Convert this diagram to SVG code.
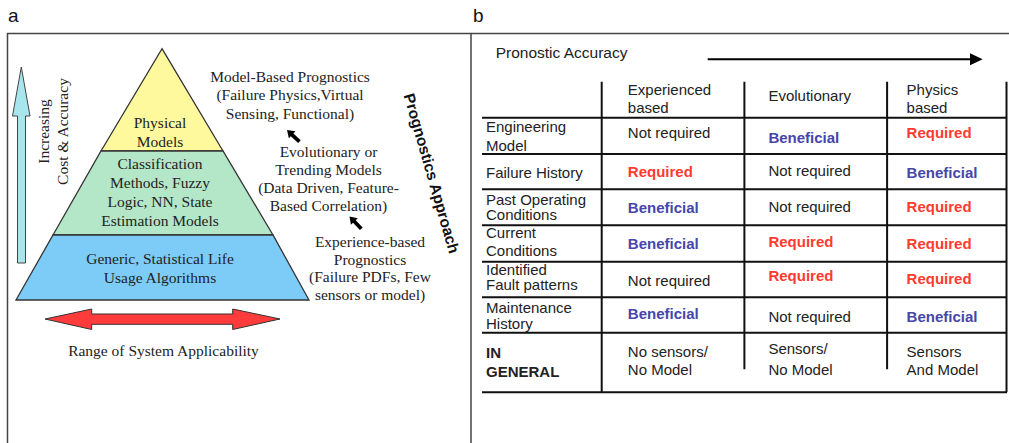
<svg xmlns="http://www.w3.org/2000/svg" width="1009" height="443" viewBox="0 0 1009 443">
<style>
.serif{font-family:"Liberation Serif","Times New Roman",serif;font-size:15.5px;fill:#222}
.sans{font-family:"Liberation Sans",Arial,sans-serif;font-size:15px;fill:#222}
.req{font-family:"Liberation Sans",Arial,sans-serif;font-size:15px;font-weight:bold;fill:#FF3B30}
.ben{font-family:"Liberation Sans",Arial,sans-serif;font-size:15px;font-weight:bold;fill:#4646AA}
.mid{text-anchor:middle}
.grid{stroke:#111;stroke-width:2;fill:none}
.layer{stroke:#333;stroke-width:1.3}
</style>
<defs>
<polygon id="fat" points="0,0 7,-4.8 7,-1.9 17,-1.9 17,1.9 7,1.9 7,4.8" fill="#000"/>
</defs>
<rect width="1009" height="443" fill="#fff"/>
<g id="frame" fill="none" stroke="#444" stroke-width="1.5">
<path d="M7.5,443 V33.5 H1009"/>
<path d="M471,33.5 V443"/>
</g>
<text x="8" y="22" font-family="Liberation Sans,Arial,sans-serif" font-size="19" fill="#111">a</text>
<text x="473" y="22" font-family="Liberation Sans,Arial,sans-serif" font-size="19" fill="#111">b</text>

<g id="pyramid">
<polygon id="top" class="layer" points="162,48.7 223,151 101,151" fill="#FFF99E"/>
<polygon id="middle" class="layer" points="101,151 223,151 273,235 53,235" fill="#B4E6C8"/>
<polygon id="base" class="layer" points="53,235 273,235 309,300 16,300" fill="#7CCCF7"/>
<text class="serif mid" x="160" y="128">Physical</text>
<text class="serif mid" x="160" y="146.5">Models</text>
<text class="serif mid" x="160" y="169">Classification</text>
<text class="serif mid" x="160" y="188">Methods, Fuzzy</text>
<text class="serif mid" x="160" y="207">Logic, NN, State</text>
<text class="serif mid" x="160" y="225.5">Estimation Models</text>
<text class="serif mid" x="160" y="264">Generic, Statistical Life</text>
<text class="serif mid" x="160" y="283">Usage Algorithms</text>
</g>

<g id="cost-arrow">
<polygon points="21.3,67 30,116 25.5,116 25.5,263 17.5,263 17.5,116 12.5,116" fill="#A8E6EE" stroke="#444" stroke-width="1"/>
<text class="serif mid" transform="translate(49,131.5) rotate(-90)">Increasing</text>
<text class="serif mid" transform="translate(68,131.5) rotate(-90)">Cost &amp; Accuracy</text>
</g>

<g id="range-arrow">
<polygon points="45,319 91.7,309 91.7,314 232.7,314 232.7,309 280,319 232.7,329.5 232.7,324.3 91.7,324.3 91.7,329.5" fill="#FF3B3B" stroke="#333" stroke-width="1"/>
<text class="serif mid" x="163.5" y="356">Range of System Applicability</text>
</g>

<g id="model-based">
<text class="serif mid" x="290" y="81.5">Model-Based Prognostics</text>
<text class="serif mid" x="290" y="100">(Failure Physics,Virtual</text>
<text class="serif mid" x="290" y="118.5">Sensing, Functional)</text>
</g>
<g id="evolutionary">
<text class="serif mid" x="328.5" y="156.5">Evolutionary or</text>
<text class="serif mid" x="328.5" y="174.5">Trending Models</text>
<text class="serif mid" x="328.5" y="192.5">(Data Driven, Feature-</text>
<text class="serif mid" x="328.5" y="210.5">Based Correlation)</text>
</g>
<g id="experience">
<text class="serif mid" x="370" y="246.5">Experience-based</text>
<text class="serif mid" x="370" y="264.5">Prognostics</text>
<text class="serif mid" x="370" y="282">(Failure PDFs, Few</text>
<text class="serif mid" x="370" y="299.5">sensors or model)</text>
</g>
<g id="connectors">
<use href="#fat" transform="translate(287,130) rotate(43)"/>
<use href="#fat" transform="translate(349.5,216.5) rotate(46)"/>
<path d="M707.7,59.3 H971" stroke="#000" stroke-width="2"/>
<polygon points="970,53.3 982.7,59.3 970,65.3" fill="#000"/>
</g>
<text transform="translate(431.7,173.3) rotate(74)" x="0" y="5.5" text-anchor="middle" font-family="Liberation Sans,Arial,sans-serif" font-size="15.5" font-weight="bold" fill="#111">Prognostics Approach</text>

<text class="sans" x="495.7" y="58.3" style="font-size:15.5px">Pronostic Accuracy</text>

<g id="table">
<g class="grid">
<path d="M482,117.7 H1007 M482,154 H1007 M482,189.3 H1007 M482,225.3 H1007 M482,261.7 H1007 M482,297.3 H1007 M482,332.7 H1007 M482,392.3 H1007"/>
<path d="M601.7,81.7 V392.3 M744.4,81.7 V369.3 M887.1,81.7 V369.3 M1006.5,81.7 V392.3"/>
</g>
<text class="sans" x="627.8" y="95">Experienced</text>
<text class="sans" x="627.8" y="113.3">based</text>
<text class="sans" x="768.4" y="101">Evolutionary</text>
<text class="sans" x="906.6" y="95">Physics</text>
<text class="sans" x="906.6" y="113.3">based</text>

<text class="sans" x="486" y="132.3">Engineering</text>
<text class="sans" x="486" y="150.7">Model</text>
<text class="sans" x="627.8" y="138.3">Not required</text>
<text class="ben" x="768.4" y="142.7">Beneficial</text>
<text class="req" x="906.6" y="138.3">Required</text>

<text class="sans" x="486" y="178.3">Failure History</text>
<text class="req" x="627.8" y="176.7">Required</text>
<text class="sans" x="768.4" y="176">Not required</text>
<text class="ben" x="906.6" y="178.3">Beneficial</text>

<text class="sans" x="486" y="205">Past Operating</text>
<text class="sans" x="486" y="220">Conditions</text>
<text class="ben" x="627.8" y="213.3">Beneficial</text>
<text class="sans" x="768.4" y="211.7">Not required</text>
<text class="req" x="906.6" y="212.3">Required</text>

<text class="sans" x="486" y="238.3">Current</text>
<text class="sans" x="486" y="255.7">Conditions</text>
<text class="ben" x="627.8" y="249">Beneficial</text>
<text class="req" x="768.4" y="246.7">Required</text>
<text class="req" x="906.6" y="249.3">Required</text>

<text class="sans" x="486" y="275">Identified</text>
<text class="sans" x="486" y="290">Fault patterns</text>
<text class="sans" x="627.8" y="286">Not required</text>
<text class="req" x="768.4" y="280.7">Required</text>
<text class="req" x="906.6" y="284">Required</text>

<text class="sans" x="486" y="313.3">Maintenance</text>
<text class="sans" x="486" y="329.3">History</text>
<text class="ben" x="627.8" y="319">Beneficial</text>
<text class="sans" x="768.4" y="321.7">Not required</text>
<text class="ben" x="906.6" y="322.3">Beneficial</text>

<text class="sans" x="486" y="357.7" font-weight="bold">IN</text>
<text class="sans" x="486" y="377.3" font-weight="bold">GENERAL</text>
<text class="sans" x="627.8" y="356.7">No sensors/</text>
<text class="sans" x="627.8" y="375">No Model</text>
<text class="sans" x="768.4" y="354">Sensors/</text>
<text class="sans" x="768.4" y="375">No Model</text>
<text class="sans" x="906.6" y="356.7">Sensors</text>
<text class="sans" x="906.6" y="375">And Model</text>
</g>
</svg>
